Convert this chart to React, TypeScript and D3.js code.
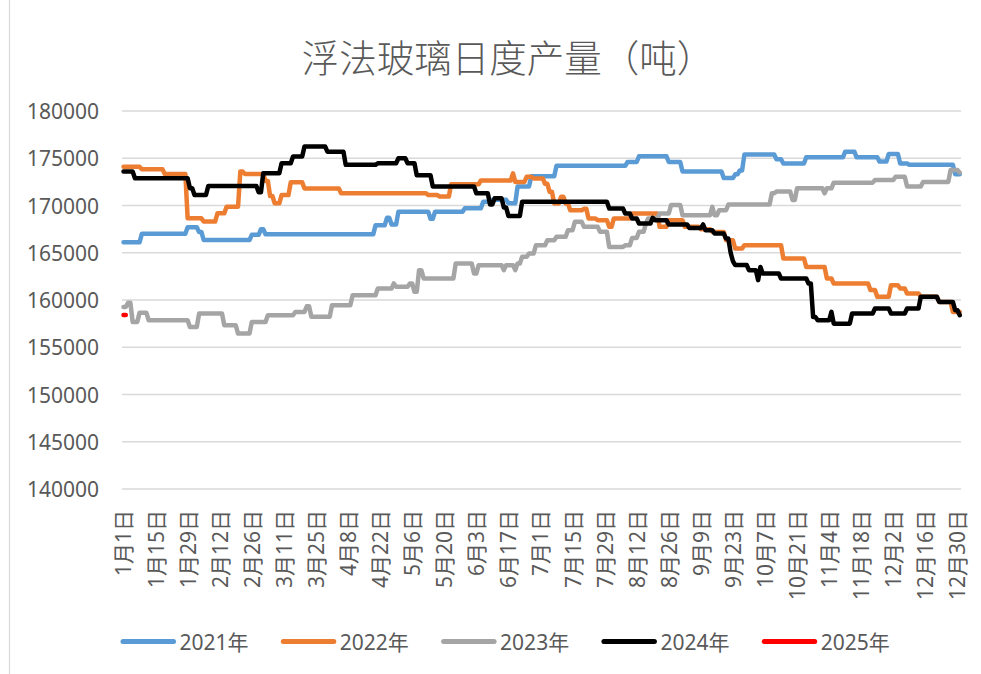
import React from 'react';
import * as d3 from 'd3';

const titleText = '浮法玻璃日度产量（吨）';
const yearNames = ['2021年', '2022年', '2023年', '2024年', '2025年'];
const seriesColors = ['#5B9BD5', '#ED7D31', '#A5A5A5', '#000000', '#FF0000'];
const dayCount = 366;
const xTickLabels = [
  '1月1日', '1月15日', '1月29日', '2月12日', '2月26日', '3月11日', '3月25日', '4月8日', '4月22日',
  '5月6日', '5月20日', '6月3日', '6月17日', '7月1日', '7月15日', '7月29日', '8月12日', '8月26日',
  '9月9日', '9月23日', '10月7日', '10月21日', '11月4日', '11月18日', '12月2日', '12月16日', '12月30日',
];
const yTicks = [140000, 145000, 150000, 155000, 160000, 165000, 170000, 175000, 180000];

// [day index, value] at each level change
const s2021: [number, number][] = [
  [0, 166100], [8, 167000], [28, 167700], [33, 167200], [35, 166350], [56, 166900], [60, 167500], [62, 166950],
  [110, 167900], [115, 168700], [117, 168000], [120, 169350], [134, 168600], [136, 169350], [149, 169700],
  [157, 170400], [161, 170600], [168, 170250], [172, 172000], [178, 173100], [189, 174200], [220, 174600],
  [225, 175200], [238, 174600], [244, 173600], [262, 172900], [267, 173300], [269, 173700], [271, 175400],
  [285, 174900], [288, 174450], [298, 175100], [315, 175700], [320, 175100], [330, 174650], [334, 175450],
  [339, 174450], [343, 174300], [363, 173300], [365, 173300],
];
const s2022: [number, number][] = [
  [0, 174100], [8, 173830], [18, 173340], [28, 168640], [35, 168300], [41, 169170], [45, 169870], [51, 173600],
  [53, 173340], [62, 172600], [64, 171000], [66, 170230], [69, 171100], [73, 172450], [79, 171800], [95, 171300],
  [133, 171100], [138, 170950], [143, 172250], [156, 172650], [170, 173400], [171, 172500], [176, 173050],
  [179, 172860], [184, 172300], [186, 171450], [188, 170210], [191, 170920], [193, 170210], [195, 169500],
  [201, 169650], [203, 168620], [207, 168450], [212, 167740], [214, 168620], [222, 169150], [234, 167740],
  [238, 168450], [245, 167740], [252, 167500], [257, 167200], [263, 166320], [267, 165440], [271, 165800],
  [288, 164400], [298, 163500], [307, 162280], [310, 161750], [326, 161050], [329, 160340], [335, 161570],
  [339, 161220], [342, 160690], [348, 160340], [356, 159800], [362, 158740], [365, 158740],
];
const s2023: [number, number][] = [
  [0, 159270], [2, 159700], [4, 157680], [7, 158640], [11, 157860], [29, 157150], [33, 158570], [44, 157330],
  [50, 156450], [56, 157680], [63, 158390], [75, 158740], [80, 159340], [82, 158220], [91, 159450],
  [100, 160510], [111, 161220], [118, 161750], [119, 161400], [125, 161750], [127, 160870], [129, 163160],
  [131, 162280], [145, 163870], [153, 162800], [155, 163690], [166, 163160], [167, 163690], [171, 163160],
  [172, 163870], [174, 164570], [177, 164910], [180, 165790], [185, 166320], [189, 166680], [194, 167380],
  [197, 168270], [201, 167740], [208, 167210], [212, 165620], [219, 165790], [222, 166570], [225, 167210],
  [228, 168090], [229, 168620], [234, 169150], [239, 170040], [244, 168970], [257, 169860], [258, 168970],
  [260, 169500], [264, 170100], [283, 171290], [285, 171470], [292, 170580], [294, 171820], [306, 171290],
  [307, 171820], [310, 172420], [328, 172700], [337, 173050], [342, 172000], [349, 172500], [361, 173760],
  [365, 173480],
];
const s2024: [number, number][] = [
  [0, 173600], [5, 172880], [29, 171820], [31, 171110], [37, 172070], [59, 171400], [61, 173400], [69, 174470],
  [74, 175180], [79, 176240], [89, 175700], [97, 174300], [111, 174470], [120, 175000], [124, 174470],
  [128, 173200], [135, 172000], [154, 171290], [160, 170100], [162, 170760], [166, 169800], [168, 168900],
  [174, 170400], [212, 169680], [219, 169150], [222, 168620], [225, 168090], [231, 168690], [232, 168450],
  [238, 167990], [247, 167630], [253, 167990], [254, 167380], [258, 167030], [263, 166500], [265, 165000],
  [266, 164100], [267, 163700], [273, 163160], [277, 162100], [278, 163500], [279, 162800], [287, 162280],
  [299, 161750], [301, 158200], [303, 157860], [309, 158740], [310, 157500], [318, 158570], [328, 159100],
  [335, 158570], [342, 159100], [348, 160340], [356, 159800], [363, 158920], [365, 158390],
];
const s2025: [number, number][] = [[0, 158400], [1, 158400]];

const allSeries = [s2021, s2022, s2023, s2024, s2025];

function expand(pts: [number, number][]): [number, number][] {
  const out: [number, number][] = [];
  pts.forEach((p, i) => {
    out.push(p);
    const next = pts[i + 1];
    if (next && next[0] - 1 > p[0]) out.push([next[0] - 1, p[1]]);
  });
  return out;
}

const W = 981;
const H = 674;
const FONT = "'Noto Sans', 'Noto Sans CJK SC', sans-serif";
const TEXT = '#595959';

export default function App() {
  const x = d3.scaleBand<number>().domain(d3.range(dayCount)).range([122.35, 960.9]);
  const cx = (d: number) => (x(d) as number) + x.bandwidth() / 2;
  const y = d3.scaleLinear().domain([140000, 180000]).range([489, 111]);
  const line = d3
    .line<[number, number]>()
    .x((d) => cx(d[0]))
    .y((d) => y(d[1]));

  const legendX = (i: number) => 120.5 + i * 160.3;

  return (
    <svg width={W} height={H} style={{ position: 'absolute', left: 0, top: 0, background: '#fff' }}>
      <rect x={0} y={0} width={W} height={H} fill="#fff" />
      <line x1={9.5} x2={9.5} y1={0} y2={H} stroke="#d9d9d9" strokeWidth={1.2} />
      <text
        x={508}
        y={55}
        textAnchor="middle"
        dominantBaseline="central"
        fontFamily="'Noto Sans CJK SC', sans-serif"
        fontSize={37.5}
        fontWeight={300}
        fill={TEXT}
      >
        {titleText}
      </text>
      {yTicks.map((t) => (
        <g key={t}>
          <line x1={122} x2={961} y1={y(t)} y2={y(t)} stroke="#d9d9d9" strokeWidth={1.3} />
          <text
            x={99}
            y={y(t)}
            textAnchor="end"
            dominantBaseline="central"
            fontFamily={FONT}
            fontSize={21}
            fill={TEXT}
          >
            {t}
          </text>
        </g>
      ))}
      {xTickLabels.map((lab, i) => (
        <text
          key={lab}
          transform={`translate(${cx(i * 14)},510) rotate(-90)`}
          textAnchor="end"
          dominantBaseline="central"
          fontFamily={FONT}
          fontSize={21}
          fill={TEXT}
        >
          {lab}
        </text>
      ))}
      {allSeries.map((s, i) => (
        <path
          key={yearNames[i]}
          d={line(expand(s)) || ''}
          fill="none"
          stroke={seriesColors[i]}
          strokeWidth={4.5}
          strokeLinejoin="round"
          strokeLinecap="round"
        />
      ))}
      {yearNames.map((name, i) => (
        <g key={name}>
          <line
            x1={legendX(i) + 2.5}
            x2={legendX(i) + 53}
            y1={641.5}
            y2={641.5}
            stroke={seriesColors[i]}
            strokeWidth={5}
            strokeLinecap="round"
          />
          <text
            x={legendX(i) + 59}
            y={641.5}
            dominantBaseline="central"
            fontFamily={FONT}
            fontSize={21}
            fill={TEXT}
          >
            {name}
          </text>
        </g>
      ))}
    </svg>
  );
}
